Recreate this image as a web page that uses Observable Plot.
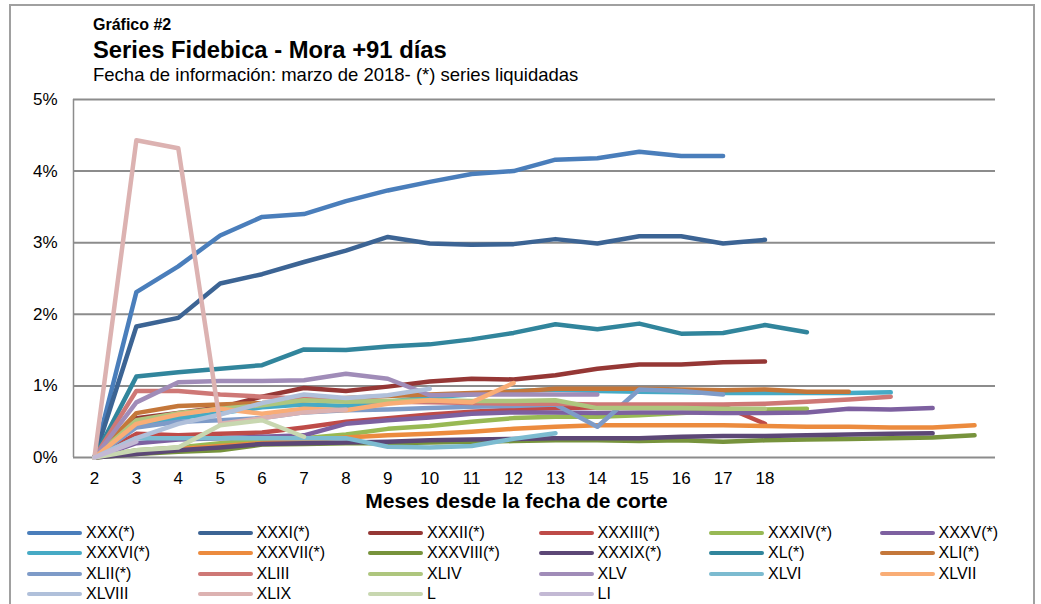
<!DOCTYPE html>
<html><head><meta charset="utf-8">
<script src="https://cdn.jsdelivr.net/npm/d3@7"></script>
<script src="https://cdn.jsdelivr.net/npm/@observablehq/plot@0.6"></script>
<style>
body{margin:0;background:#fff;font-family:"Liberation Sans",Arial,sans-serif;}
#wrap{position:relative;width:1041px;height:604px;overflow:hidden;}
#frame{position:absolute;left:9px;top:4px;width:1022px;height:640px;border:2px solid #a0a0a0;}
.h{position:absolute;left:93px;white-space:nowrap;color:#000;line-height:1;}
#chart{position:absolute;left:0;top:88px;}
#legend{position:absolute;left:27px;top:523px;display:grid;grid-template-columns:repeat(6,170.5px);}
.it{display:flex;align-items:center;height:20.3px;font-size:16px;color:#000;white-space:nowrap;}
.sw{width:55px;height:4px;border-radius:2px;margin-right:4px;flex:none;}
</style></head>
<body><div id="wrap">
<div id="frame"></div>
<div class="h" style="top:16.5px;font-size:16px;font-weight:bold;">Gráfico #2</div>
<div class="h" style="top:38px;font-size:23.8px;font-weight:bold;">Series Fidebica - Mora +91 días</div>
<div class="h" style="top:65.5px;font-size:18.5px;">Fecha de información: marzo de 2018- (*) series liquidadas</div>
<div id="chart"></div>
<div id="legend"></div>
</div>
<script>
// months since cut-off date (first value of every series is month 2)
const months = d3.range(2, 24);
const xTicks = d3.range(2, 19);
const yTicks = [0, 1, 2, 3, 4, 5];

const names = ["XXX(*)","XXXI(*)","XXXII(*)","XXXIII(*)","XXXIV(*)","XXXV(*)","XXXVI(*)","XXXVII(*)","XXXVIII(*)","XXXIX(*)","XL(*)","XLI(*)","XLII(*)","XLIII","XLIV","XLV","XLVI","XLVII","XLVIII","XLIX","L","LI"];
const colors = ["#4a7ebb","#3c6494","#953735","#be4b48","#98b954","#7d60a0","#46aac5","#ec8b3e","#77933c","#5c4776","#31859c","#c4773a","#7e9bc8","#ce7876","#aec67e","#a08cb8","#7cbbd0","#f9ad76","#b0c0da","#dcb2b1","#c8d7b0","#c3b9d4"];

// values in %
const XXX     = [0, 2.31, 2.67, 3.10, 3.36, 3.40, 3.58, 3.73, 3.85, 3.96, 4.00, 4.16, 4.18, 4.27, 4.21, 4.21];
const XXXI    = [0, 1.83, 1.95, 2.43, 2.56, 2.73, 2.89, 3.08, 2.99, 2.97, 2.98, 3.05, 2.99, 3.09, 3.09, 2.99, 3.04];
const XXXII   = [0, 0.55, 0.62, 0.70, 0.85, 0.97, 0.93, 0.99, 1.06, 1.10, 1.09, 1.15, 1.24, 1.30, 1.30, 1.33, 1.34];
const XXXIII  = [0, 0.33, 0.31, 0.33, 0.35, 0.42, 0.50, 0.55, 0.60, 0.64, 0.67, 0.69, 0.70, 0.72, 0.73, 0.72, 0.47];
const XXXIV   = [0, 0.10, 0.14, 0.20, 0.25, 0.27, 0.32, 0.40, 0.44, 0.50, 0.55, 0.57, 0.57, 0.59, 0.62, 0.65, 0.67, 0.68];
const XXXV    = [0, 0.20, 0.25, 0.27, 0.29, 0.31, 0.47, 0.52, 0.56, 0.61, 0.63, 0.63, 0.62, 0.63, 0.63, 0.62, 0.62, 0.63, 0.68, 0.67, 0.69];
const XXXVI   = [0, 0.45, 0.55, 0.62, 0.70, 0.74, 0.72, 0.78, 0.84, 0.88, 0.93, 0.95, 0.93, 0.92, 0.91, 0.90, 0.90, 0.90, 0.90, 0.91];
const XXXVII  = [0, 0.08, 0.12, 0.16, 0.20, 0.24, 0.28, 0.31, 0.33, 0.36, 0.40, 0.43, 0.45, 0.45, 0.45, 0.45, 0.44, 0.43, 0.43, 0.42, 0.42, 0.45];
const XXXVIII = [0, 0.05, 0.08, 0.10, 0.18, 0.19, 0.20, 0.20, 0.21, 0.22, 0.23, 0.24, 0.24, 0.23, 0.24, 0.22, 0.24, 0.25, 0.26, 0.27, 0.28, 0.31];
const XXXIX   = [0, 0.05, 0.10, 0.14, 0.19, 0.20, 0.21, 0.22, 0.24, 0.25, 0.26, 0.27, 0.27, 0.27, 0.29, 0.30, 0.30, 0.31, 0.32, 0.33, 0.34];
const XL      = [0, 1.13, 1.19, 1.24, 1.29, 1.51, 1.50, 1.55, 1.58, 1.65, 1.74, 1.86, 1.79, 1.87, 1.73, 1.74, 1.85, 1.75];
const XLI     = [0, 0.62, 0.72, 0.74, 0.76, 0.80, 0.83, 0.86, 0.88, 0.90, 0.92, 0.96, 0.96, 0.96, 0.95, 0.94, 0.95, 0.92, 0.92];
const XLII    = [0, 0.42, 0.50, 0.52, 0.55, 0.63, 0.66, 0.67, 0.69, 0.71, 0.72, 0.74, 0.43, 0.95, 0.93, 0.88];
const XLIII   = [0, 0.93, 0.93, 0.88, 0.85, 0.82, 0.80, 0.78, 0.77, 0.76, 0.75, 0.75, 0.74, 0.74, 0.74, 0.74, 0.75, 0.78, 0.81, 0.85];
const XLIV    = [0, 0.52, 0.62, 0.68, 0.73, 0.80, 0.78, 0.79, 0.80, 0.79, 0.79, 0.80, 0.69, 0.69, 0.69, 0.68, 0.68];
const XLV     = [0, 0.77, 1.05, 1.07, 1.07, 1.08, 1.17, 1.10, 0.87, 0.88, 0.88, 0.88, 0.88];
const XLVI    = [0, 0.27, 0.27, 0.27, 0.27, 0.27, 0.27, 0.15, 0.14, 0.16, 0.26, 0.34];
const XLVII   = [0, 0.47, 0.60, 0.68, 0.61, 0.68, 0.66, 0.75, 0.80, 0.77, 1.04];
const XLVIII  = [0, 0.27, 0.47, 0.60, 0.76, 0.88, 0.83, 0.87, 0.96];
const XLIX    = [0, 4.43, 4.32, 0.47, 0.55, 0.63, 0.67];
const L       = [0, 0.10, 0.14, 0.45, 0.52, 0.29];
const LI      = [0, 0.22];

const seriesValues = [XXX, XXXI, XXXII, XXXIII, XXXIV, XXXV, XXXVI, XXXVII, XXXVIII, XXXIX, XL, XLI, XLII, XLIII, XLIV, XLV, XLVI, XLVII, XLVIII, XLIX, L, LI];

const data = [];
seriesValues.forEach((vals, i) => vals.forEach((v, j) => data.push({series: names[i], month: months[j], value: v})));

const font = '"Liberation Sans", Arial, sans-serif';
const chart = Plot.plot({
  width: 1041, height: 440,
  marginLeft: 73, marginRight: 46, marginTop: 11, marginBottom: 71,
  x: {domain: [1.5, 23.5], axis: null},
  y: {domain: [0, 5], axis: null},
  color: {domain: names, range: colors},
  style: {fontFamily: font, fontSize: "17px", color: "#000", background: "transparent", overflow: "visible"},
  marks: [
    Plot.ruleY(yTicks, {stroke: "#8c8c8c", strokeWidth: 2}),
    Plot.ruleX([1.5], {y1: 0, y2: 5, stroke: "#8c8c8c", strokeWidth: 1.5}),
    Plot.axisY({ticks: yTicks, tickSize: 0, tickPadding: 16, tickFormat: d => d + "%", fontSize: 17, label: null}),
    Plot.axisX({ticks: xTicks, tickSize: 0, tickPadding: 14, tickFormat: d => String(d), fontSize: 17, label: null}),
    Plot.line(data, {x: "month", y: "value", z: "series", stroke: "series", strokeWidth: 4.5, strokeLinecap: "round", strokeLinejoin: "round"}),
    Plot.text(["Meses desde la fecha de corte"], {frameAnchor: "bottom", dx: -18, dy: 50, fontWeight: "bold", fontSize: 21, fill: "#000"})
  ]
});
document.getElementById("chart").appendChild(chart);

const leg = document.getElementById("legend");
names.forEach((n, i) => {
  const it = document.createElement("div");
  it.className = "it";
  const sw = document.createElement("span");
  sw.className = "sw";
  sw.style.background = colors[i];
  const t = document.createElement("span");
  t.textContent = n;
  it.appendChild(sw); it.appendChild(t);
  leg.appendChild(it);
});
</script>
</body></html>
